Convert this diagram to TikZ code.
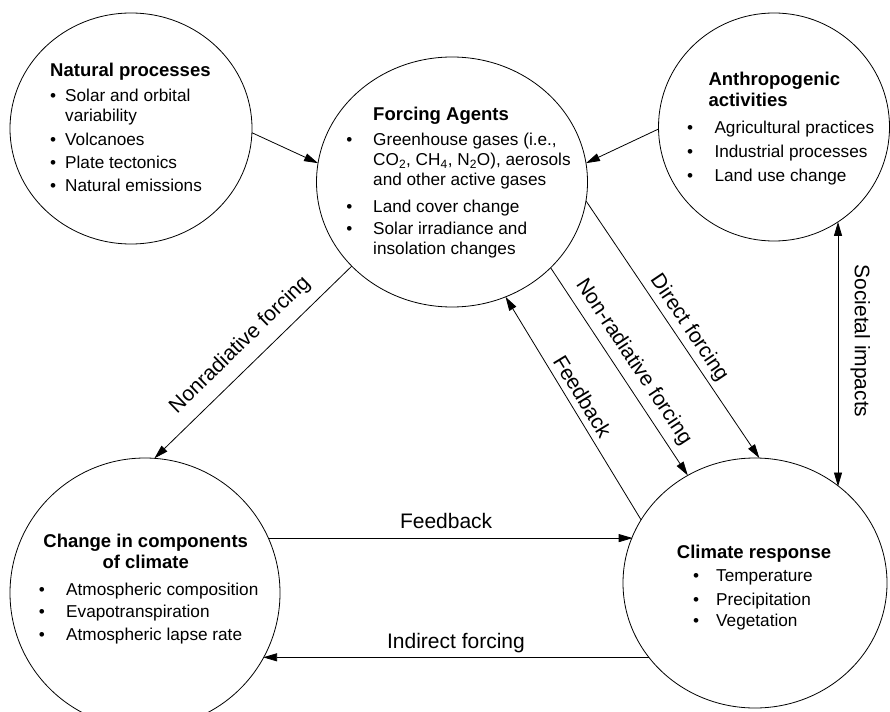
\documentclass[tikz,border=0pt]{standalone}
\usepackage{fontspec}
\setmainfont{Liberation Sans}
\usetikzlibrary{shapes.geometric,arrows.meta}
\newcommand{\bul}[2]{\llap{\textbullet\hspace{#1pt}}#2}
\tikzset{
 blob/.style={ellipse, draw, line width=0.8pt, inner sep=0pt, outer sep=0pt},
 ttl/.style={inner sep=0pt, anchor=base west, font=\fontsize{18.5}{20}\selectfont\bfseries},
 txt/.style={inner sep=0pt, anchor=base west, font=\fontsize{17.2}{20}\selectfont},
 lbl/.style={inner sep=0pt, font=\fontsize{21}{24}\selectfont},
 tip/.tip={Triangle[length=14pt,width=8pt]},
 conn/.style={line width=0.8pt, -tip},
 connb/.style={line width=0.8pt, tip-},
 conn2/.style={line width=0.8pt, tip-tip},
}
\begin{document}
\begin{tikzpicture}[x=1pt,y=-1pt]
\useasboundingbox (0,0) rectangle (890,711);
% circles
\node[blob, minimum width=242pt, minimum height=231pt] (nat) at (131,128.5) {};
\node[blob, minimum width=271pt, minimum height=250pt] (forc) at (452,182) {};
\node[blob, minimum width=231pt, minimum height=228pt] (anth) at (774,127) {};
\node[blob, minimum width=270pt, minimum height=270pt] (chg) at (145,593) {};
\node[blob, minimum width=264pt, minimum height=250pt] (clim) at (755,583) {};
% natural processes
\node[ttl] (nt0) at (50,77) {Natural processes};
\node[txt] (nt1) at (65,101.7) {\bul{9}{Solar and orbital}};
\node[txt] (nt2) at (65,121.7) {variability};
\node[txt] (nt3) at (65,145.7) {\bul{9}{Volcanoes}};
\node[txt] (nt4) at (65,168.7) {\bul{9}{Plate tectonics}};
\node[txt] (nt5) at (65,192) {\bul{9}{Natural emissions}};
% forcing agents
\node[ttl] (ft0) at (373,120.7) {Forcing Agents};
\node[txt] (ft1) at (373,145.7) {\bul{20.7}{Greenhouse gases (i.e.,}};
\node[txt] (ft2) at (373,165.7) {CO\textsubscript{2}, CH\textsubscript{4}, N\textsubscript{2}O), aerosols};
\node[txt] (ft3) at (373,185.7) {and other active gases};
\node[txt] (ft4) at (373,212.3) {\bul{20.7}{Land cover change}};
\node[txt] (ft5) at (373,234.3) {\bul{20.7}{Solar irradiance and}};
\node[txt] (ft6) at (373,254.3) {insolation changes};
% anthropogenic
\node[ttl] (at0) at (708.3,86) {Anthropogenic};
\node[ttl] (at1) at (708.3,106.7) {activities};
\node[txt] (at2) at (714.3,133.3) {\bul{21.3}{Agricultural practices}};
\node[txt] (at3) at (714.3,157.3) {\bul{21.3}{Industrial processes}};
\node[txt] (at4) at (714.3,181.7) {\bul{21.3}{Land use change}};
% change in components
\node[ttl, anchor=base] (ct0) at (145.7,547.3) {Change in components};
\node[ttl, anchor=base] (ct1) at (145.7,568.3) {of climate};
\node[txt] (ct2) at (66,595.7) {\bul{21.3}{Atmospheric composition}};
\node[txt] (ct3) at (66,617.7) {\bul{21.3}{Evapotranspiration}};
\node[txt] (ct4) at (66,640) {\bul{21.3}{Atmospheric lapse rate}};
% climate response
\node[ttl] (rt0) at (676.7,558.3) {Climate response};
\node[txt] (rt1) at (716,581.7) {\bul{17}{Temperature}};
\node[txt] (rt2) at (716,605) {\bul{17}{Precipitation}};
\node[txt] (rt3) at (716,626.7) {\bul{17}{Vegetation}};
% connectors
\draw[conn] (nat.358.3) -- (forc.172);
\draw[conn] (anth.181.5) -- (forc.8.4);
\draw[conn] (forc.220.4) -- (chg.86.6)
  node[lbl, pos=0.49, sloped, above=11pt] (l1) {Nonradiative forcing};
\draw[conn] (forc.319.9) -- (clim.122.2)
  node[lbl, pos=0.5, sloped, above=7pt] (l2) {Non-radiative forcing};
\draw[conn] (forc.352.4) -- (clim.88.6)
  node[lbl, pos=0.526, sloped, above=4pt] (l3) {Direct forcing};
\draw[connb] (forc.295.4) -- (clim.151.1)
  node[lbl, pos=0.48, sloped, above=6pt] (l4) {Feedback};
\draw[conn] (chg.24.5) -- (chg.24.5 -| clim.159.45)
  node[lbl, pos=0.488, above=9pt] (l5) {Feedback};
\draw[conn] (clim.215.4) -- (clim.215.4 -| chg.331.2)
  node[lbl, midway, above=4pt] (l6) {Indirect forcing};
\draw[conn2] (anth.304) -- (anth.304 |- clim.49.5)
  node[lbl, pos=0.45, sloped, above=12pt] (l7) {Societal impacts};
\end{tikzpicture}
\end{document}
